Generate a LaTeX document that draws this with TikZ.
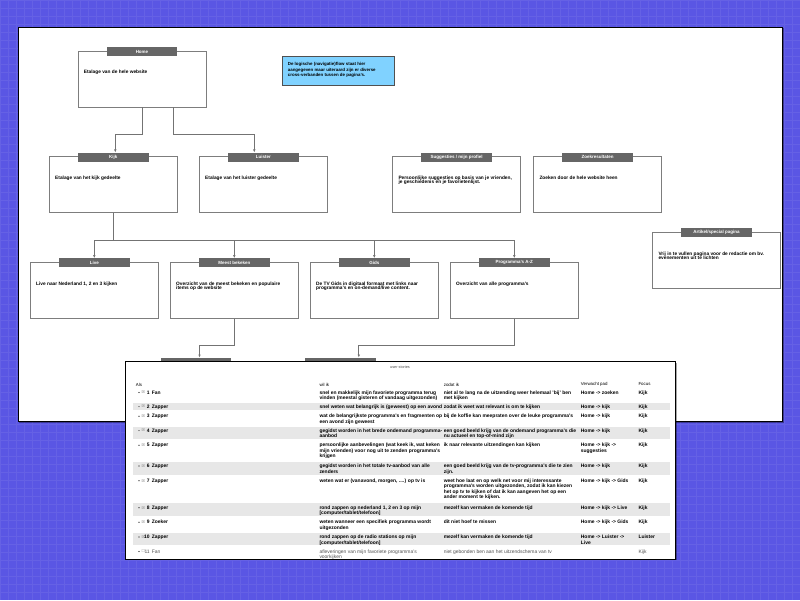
\documentclass[tikz,border=0pt]{standalone}
\usepackage{fontspec}
\setmainfont{Liberation Sans}
\newfontfamily\symfont{DejaVu Sans}
\usetikzlibrary{arrows.meta,shadows,calc}
\definecolor{bgblue}{RGB}{90,86,228}
\definecolor{bargray}{RGB}{102,102,102}
\definecolor{boxgray}{RGB}{125,125,125}
\definecolor{linegray}{RGB}{115,115,115}
\definecolor{noteblue}{RGB}{128,210,255}
\definecolor{bandgray}{RGB}{231,231,231}
\definecolor{softgray}{RGB}{80,80,80}

\newcommand\mkbox[5]{%
  \node[pagebox] (#1) at (#2,#3) {};
  \node[titlebar] (#1-t) at ($(#1.north)+(0,0.8)$) {#4};
  \node[bodytext] (#1-b) at ($(#1.north west)+(6,19.2)$) {\rule{0pt}{3.6pt}#5};
}
\newcommand\trow[9]{%
  \node[dotmark] (r#1-d) at (139,#2) {};
  \node[cbmark] (r#1-c) at (143.3,#2) {#3};
  \node[tcell, anchor=north east] (r#1-n) at (149.9,#2-2.4) {\rule{0pt}{3.8pt}#4};
  \node[tcell] (r#1-a) at (151.7,#2-2.4) {\rule{0pt}{3.8pt}#5};
  \node[tcell] (r#1-w) at (319.3,#2-2.4) {\rule{0pt}{3.8pt}#6};
  \node[tcell] (r#1-z) at (443.6,#2-2.4) {\rule{0pt}{3.8pt}#7};
  \node[tcell] (r#1-p) at (580.7,#2-2.4) {\rule{0pt}{3.8pt}#8};
  \node[tcell] (r#1-f) at (638.3,#2-2.4) {\rule{0pt}{3.8pt}#9};
}

\begin{document}
\begin{tikzpicture}[x=1pt,y=-1pt,
  pagebox/.style={draw=boxgray, line width=0.6pt, fill=white, minimum width=128pt,
    minimum height=56pt, anchor=north west, inner sep=0pt,
    drop shadow={shadow xshift=0.7pt, shadow yshift=-0.7pt, opacity=0.3, fill=black}},
  titlebar/.style={fill=bargray, minimum width=70.7pt, minimum height=9pt, inner sep=0pt,
    text=white, font=\fontsize{4.5}{5}\selectfont\bfseries},
  bodytext/.style={anchor=north west, inner sep=0pt, align=left,
    font=\fontsize{4.8}{4.6}\selectfont\bfseries},
  conn/.style={draw=linegray, line width=0.7pt},
  arr/.style={conn, -{Latex[length=3pt,width=2.6pt]}},
  tcell/.style={anchor=north west, inner sep=0pt, align=left,
    font=\fontsize{4.95}{5.5}\selectfont\bfseries},
  thead/.style={anchor=west, inner sep=0pt, font=\fontsize{4.4}{4.4}\selectfont},
  dotmark/.style={circle, fill=black, inner sep=0pt, minimum size=1.2pt},
  cbmark/.style={inner sep=0pt, text=gray, font=\symfont\fontsize{3.8}{3.8}\selectfont}
]
\useasboundingbox (0,0) rectangle (800,600);
% background
\fill[bgblue] (0,0) rectangle (800,600);
\draw[white, opacity=0.07, line width=0.4pt, step=8pt] (0,0) grid (800,600);

% sheet
\node[fill=white, draw=black, line width=0.9pt, minimum width=764.5pt, minimum height=394.3pt,
  anchor=north west, inner sep=0pt,
  drop shadow={shadow xshift=1.2pt, shadow yshift=-1.2pt, opacity=0.35, fill=black}] (sheet) at (17.5,26.7) {};

% note
\node[fill=noteblue, draw=softgray, line width=0.6pt, minimum width=112pt, minimum height=29pt,
  anchor=north west, inner sep=0pt,
  drop shadow={shadow xshift=0.7pt, shadow yshift=-0.7pt, opacity=0.3, fill=black}] (note) at (281.7,56.3) {};
\node[anchor=north west, inner sep=0pt, align=left, font=\fontsize{4.4}{5.2}\selectfont\bfseries]
  (note-t) at ($(note.north west)+(6,5.9)$)
  {\rule{0pt}{3.4pt}De logische (navigatie)flow staat hier\\aangegeven maar uiteraard zijn er diverse\\cross-verbanden tussen de pagina's.};

% page boxes
\mkbox{home}{77.7}{50.7}{Home}{Etalage van de hele website}
\mkbox{kijk}{49}{156.3}{Kijk}{Etalage van het kijk gedeelte}
\mkbox{luister}{199}{156.3}{Luister}{Etalage van het luister gedeelte}
\mkbox{sugg}{392.3}{156.3}{Suggesties / mijn profiel}{Persoonlijke suggesties op basis van je vrienden,\\je geschiedenis en je favorietenlijst.}
\mkbox{zoek}{533.3}{156.3}{Zoekresultaten}{Zoeken door de hele website heen}
\mkbox{live}{30}{262}{Live}{Live naar Nederland 1, 2 en 3 kijken}
\mkbox{meest}{170}{262}{Meest bekeken}{Overzicht van de meest bekeken en populaire\\items op de website}
\mkbox{gids}{310}{262}{Gids}{De TV Gids in digitaal formaat met links naar\\programma's en on-demand/live content.}
\mkbox{prog}{450}{262}{Programma's A-Z}{Overzicht van alle programma's}
\mkbox{art}{652.3}{232}{Artikel/special pagina}{Vrij in te vullen pagina voor de redactie om bv.\\evenementen uit te lichten}
% boxes hidden under the table
\node[pagebox] (hid1) at (131.7,361.4) {};
\node[titlebar] (hid1-t) at ($(hid1.north)+(0,0.8)$) {};
\node[pagebox] (hid2) at (276,361.4) {};
\node[titlebar] (hid2-t) at ($(hid2.north)+(0,0.8)$) {};

% connectors
\draw[arr] (home.south) -- ++(0,27) -| ($(kijk-t.north)+(2,0)$);
\draw[arr] ($(home.south)+(31.3,0)$) -- ++(0,27) -| ($(luister-t.north)+(-9,0)$);
\coordinate (split) at ($(kijk.south)+(0,27.7)$);
\draw[arr] (kijk.south) -- (split) -| (live-t.north);
\draw[arr] (split) -| (meest-t.north);
\draw[arr] (split) -| (gids-t.north);
\draw[arr] (split) -| (prog-t.north);
\draw[arr] (meest.south) -- ++(0,27) -| ($(hid1-t.north)+(3.5,0)$);
\draw[arr] (prog.south) -- ++(0,27) -| ($(hid2-t.north)+(18.5,0)$);

% user stories table
\node[fill=white, draw=black, line width=0.9pt, minimum width=549.5pt, minimum height=197.5pt,
  anchor=north west, inner sep=0pt,
  drop shadow={shadow xshift=1.5pt, shadow yshift=-1.5pt, opacity=0.35, fill=black}] (table) at (125.3,361) {};
\begin{scope}
\clip ($(table.north west)+(0.5,0.5)$) rectangle ($(table.south east)+(-0.5,-0.5)$);
\node[inner sep=0pt, text=softgray, font=\fontsize{3.8}{3.8}\selectfont] (title) at (400,367.6) {user stories};
\fill[bandgray] (133.3,402.8) rectangle (670,410.2);
\fill[bandgray] (133.3,426.7) rectangle (670,439.3);
\fill[bandgray] (133.3,461.7) rectangle (670,475);
\fill[bandgray] (133.3,503.3) rectangle (670,516);
\fill[bandgray] (133.3,532.7) rectangle (670,545.3);
\node[thead] (h-als) at (135.7,384.5) {Als};
\node[thead] (h-wil) at (319.3,384.5) {wil ik};
\node[thead] (h-zodat) at (443.6,384.5) {zodat ik};
\node[thead] (h-pad) at (580.7,384.5) {Verwacht pad};
\node[thead] (h-focus) at (638.3,384.5) {Focus};
\trow{1}{392.5}{☒}{1}{Fan}{snel en makkelijk mijn favoriete programma terug\\vinden (meestal gisteren of vandaag uitgezonden)}{niet al te lang na de uitzending weer helemaal 'bij' ben\\met kijken}{Home -> zoeken}{Kijk}
\trow{2}{406.6}{☒}{2}{Zapper}{snel weten wat belangrijk is (geweest) op een avond}{zodat ik weet wat relevant is om te kijken}{Home -> kijk}{Kijk}
\trow{3}{416.2}{☒}{3}{Zapper}{wat de belangrijkste programma's en fragmenten op\\een avond zijn geweest}{bij de koffie kan meepraten over de leuke programma's}{Home -> kijk}{Kijk}
\trow{4}{430.6}{☒}{4}{Zapper}{gegidst worden in het brede ondemand programma-\\aanbod}{een goed beeld krijg van de ondemand programma's die\\nu actueel en top-of-mind zijn}{Home -> kijk}{Kijk}
\trow{5}{445.3}{☒}{5}{Zapper}{persoonlijke aanbevelingen (wat keek ik, wat keken\\mijn vrienden) voor nog uit te zenden programma's\\krijgen}{ik naar relevante uitzendingen kan kijken}{Home -> kijk ->\\suggesties}{Kijk}
\trow{6}{466}{☒}{6}{Zapper}{gegidst worden in het totale tv-aanbod van alle\\zenders}{een goed beeld krijg van de tv-programma's die te zien\\zijn.}{Home -> kijk}{Kijk}
\trow{7}{480.7}{☒}{7}{Zapper}{weten wat er (vanavond, morgen, ....) op tv is}{weet hoe laat en op welk net voor mij interessante\\programma's worden uitgezonden, zodat ik kan kiezen\\het op tv te kijken of dat ik kan aangeven het op een\\ander moment te kijken.}{Home -> kijk -> Gids}{Kijk}
\trow{8}{507.7}{☒}{8}{Zapper}{rond zappen op nederland 1, 2 en 3 op mijn\\{[}computer/tablet/telefoon{]}}{mezelf kan vermaken de komende tijd}{Home -> kijk -> Live}{Kijk}
\trow{9}{522.3}{☒}{9}{Zoeker}{weten wanneer een specifiek programma wordt\\uitgezonden}{dit niet hoef te missen}{Home -> kijk -> Gids}{Kijk}
\trow{10}{537}{☒}{10}{Zapper}{rond zappen op de radio stations op mijn\\{[}computer/tablet/telefoon{]}}{mezelf kan vermaken de komende tijd}{Home -> Luister ->\\Live}{Luister}
\begin{scope}[tcell/.style={anchor=north west, inner sep=0pt, align=left, text=softgray,
    font=\fontsize{4.95}{5.5}\selectfont}]
\trow{11}{551.5}{☐}{11}{Fan}{afleveringen van mijn favoriete programma's\\voorkijken}{niet gebonden ben aan het uitzendschema van tv}{}{Kijk}
\end{scope}
\end{scope}
\end{tikzpicture}
\end{document}
